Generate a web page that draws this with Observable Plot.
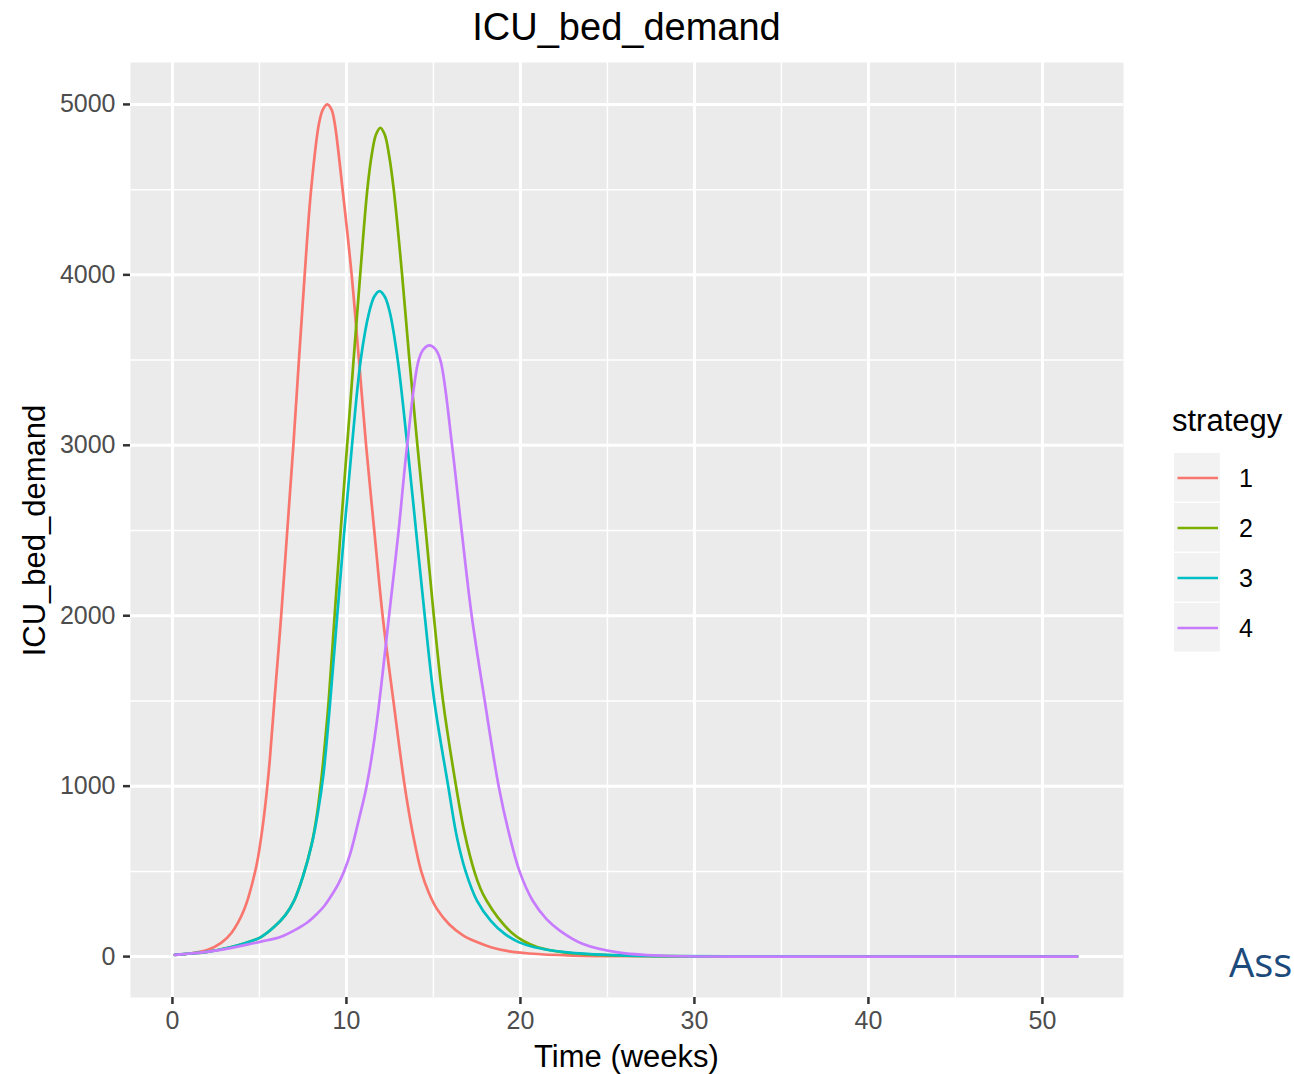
<!DOCTYPE html>
<html>
<head>
<meta charset="utf-8">
<script src="https://cdn.jsdelivr.net/npm/d3@7"></script>
<script src="https://cdn.jsdelivr.net/npm/@observablehq/plot@0.6"></script>
<style>
  body { margin: 0; background: #fff; }
  #wrap { position: relative; width: 1294px; height: 1074px; overflow: hidden; font-family: "Liberation Sans", Arial, sans-serif; }
  #title { position: absolute; left: 130px; width: 993px; top: 0; height: 55px; line-height: 55px; text-align: center; font-size: 38px; color: #000; }
  #chart { position: absolute; left: 0; top: 55px; }
  #xlabel { position: absolute; left: 130px; width: 993px; top: 1041px; height: 31px; line-height: 31px; text-align: center; font-size: 31px; color: #000; }
  #ylabel { position: absolute; left: -166.5px; top: 514.5px; width: 400px; height: 31px; line-height: 31px; text-align: center; font-size: 31px; color: #000; transform: rotate(-90deg); }
  #legend { position: absolute; left: 0; top: 0; }
  #note { position: absolute; left: 1229px; top: 940.6px; font-family: "Open Sans", sans-serif; font-size: 40px; line-height: 41px; color: #1c4a7b; white-space: nowrap; }
</style>
</head>
<body>
<div id="wrap">
  <div id="title"></div>
  <div id="chart"></div>
  <div id="xlabel"></div>
  <div id="ylabel"></div>
  <svg id="legend" width="1294" height="1074"></svg>
  <div id="note"></div>
</div>
<script>
// ---- text ----
const chartTitle = "ICU_bed_demand";
const xTitle = "Time (weeks)";
const yTitle = "ICU_bed_demand";
const legendTitle = "strategy";
const noteText = "Ass";

// ---- categories / colours ----
const strategies = ["1", "2", "3", "4"];
const strategyColors = ["#F8766D", "#7CAE00", "#00BFC4", "#C77CFF"];

// ---- tick labels ----
const xTicks = [0, 10, 20, 30, 40, 50];
const xMinor = [5, 15, 25, 35, 45];
const yTicks = [0, 1000, 2000, 3000, 4000, 5000];
const yMinor = [500, 1500, 2500, 3500, 4500];

// ---- series (time in weeks, ICU beds) ----
const weeks1 = [0.14, 1, 2.0, 2.8, 3.4, 4.1, 4.8, 5.1, 5.35, 5.6, 5.86, 6.25, 6.6, 6.95, 7.27, 7.6, 7.97, 8.42, 8.65, 8.9, 9.15, 9.33, 9.78, 10.3, 10.72, 11.13, 11.6, 12.08, 12.7, 13.35, 13.8, 14.3, 14.75, 15.2, 15.9, 16.7, 17.5, 18.3, 19.3, 20.5, 23, 27, 35, 52];
const icu1   = [10, 18, 38, 80, 140, 270, 520, 700, 900, 1160, 1500, 2000, 2500, 3000, 3500, 4000, 4500, 4887, 4971, 5000, 4968, 4887, 4500, 4000, 3500, 3000, 2500, 2000, 1500, 1000, 730, 500, 370, 280, 190, 125, 85, 55, 32, 18, 6, 2, 1, 0];

const weeks2 = [0.14, 1, 2, 3.33, 4.2, 5.06, 5.82, 6.5, 7.0, 7.5, 8.0, 8.3, 8.6, 8.8, 8.98, 9.32, 9.67, 10.04, 10.41, 10.79, 11.2, 11.45, 11.7, 11.95, 12.2, 12.45, 12.72, 13.2, 13.62, 14.08, 14.56, 15.02, 15.55, 16.3, 16.8, 17.35, 17.7, 18.05, 18.7, 19.5, 20.2, 21, 22.5, 24.5, 27, 30, 40, 52];
const icu2   = [10, 18, 28, 55, 80, 113, 172, 245, 330, 470, 660, 830, 1080, 1290, 1500, 2000, 2500, 3000, 3500, 4000, 4500, 4702, 4823, 4863, 4823, 4702, 4500, 4000, 3500, 3000, 2500, 2000, 1500, 1000, 720, 500, 400, 329, 230, 140, 90, 55, 25, 10, 4, 2, 0, 0];

const weeks3 = [0.14, 1, 2, 3.33, 4.2, 5.06, 5.82, 6.5, 7.0, 7.5, 8.0, 8.35, 8.68, 9.07, 9.47, 9.88, 10.32, 10.82, 11.3, 11.6, 11.9, 12.2, 12.5, 12.95, 13.5, 14.0, 14.5, 15.05, 15.85, 16.35, 16.85, 17.5, 18.3, 19.1, 19.9, 20.8, 22.7, 25, 28, 32, 40, 52];
const icu3   = [10, 18, 28, 55, 80, 113, 172, 245, 330, 470, 655, 840, 1070, 1500, 2000, 2500, 3000, 3500, 3778, 3873, 3905, 3873, 3778, 3500, 3000, 2500, 2000, 1500, 1000, 700, 500, 329, 210, 133, 85, 55, 25, 10, 3, 1, 0, 0];

const weeks4 = [0.14, 1, 2, 3.33, 4.3, 5.25, 6.2, 7.2, 7.75, 8.3, 8.75, 9.15, 9.55, 9.9, 10.25, 10.75, 11.1, 11.45, 11.8, 12.1, 12.45, 13.0, 13.49, 14.15, 14.45, 14.77, 15.1, 15.4, 16.07, 16.62, 17.2, 17.95, 18.75, 19.35, 19.95, 20.7, 21.5, 22.3, 23.6, 25.6, 28.2, 35, 52];
const icu4   = [10, 18, 28, 50, 70, 92, 115, 165, 200, 250, 300, 360, 430, 510, 615, 820, 970, 1170, 1420, 1680, 2000, 2500, 3000, 3500, 3566, 3586, 3566, 3500, 3000, 2500, 2000, 1500, 1000, 720, 500, 329, 220, 150, 74, 25, 5, 0, 0];

const seriesWeeks = [weeks1, weeks2, weeks3, weeks4];
const seriesIcu = [icu1, icu2, icu3, icu4];

const rows = [];
strategies.forEach((s, i) => {
  seriesWeeks[i].forEach((t, j) => rows.push({strategy: s, week: t, icu: seriesIcu[i][j]}));
});

// ---- layout ----
const W = 1294, H = 1019;
const mL = 130, mR = 171, mT = 7, mB = 77;

const chart = Plot.plot({
  width: W,
  height: H,
  marginLeft: mL, marginRight: mR, marginTop: mT, marginBottom: mB,
  style: {background: "transparent", fontFamily: "'Liberation Sans', Arial, sans-serif", fontSize: "25px", overflow: "visible"},
  x: {domain: [-2.41, 54.66]},
  y: {domain: [-240, 5246]},
  color: {domain: strategies, range: strategyColors},
  marks: [
    Plot.frame({fill: "#EBEBEB", stroke: "none"}),
    Plot.gridX(xMinor, {stroke: "#fff", strokeOpacity: 1, strokeWidth: 1.5}),
    Plot.gridY(yMinor, {stroke: "#fff", strokeOpacity: 1, strokeWidth: 1.5}),
    Plot.gridX(xTicks, {stroke: "#fff", strokeOpacity: 1, strokeWidth: 3}),
    Plot.gridY(yTicks, {stroke: "#fff", strokeOpacity: 1, strokeWidth: 3}),
    Plot.line(rows, {x: "week", y: "icu", z: "strategy", stroke: "strategy", strokeWidth: 2.7, curve: "catmull-rom"}),
    Plot.axisX(xTicks, {tickSize: 7, tickPadding: 7, stroke: "#333333", strokeWidth: 2.5, fill: "#4D4D4D", fontSize: 25, label: null}),
    Plot.axisY(yTicks, {tickSize: 7, tickPadding: 8, stroke: "#333333", strokeWidth: 2.5, fill: "#4D4D4D", fontSize: 25, label: null, tickFormat: d => String(d)})
  ]
});
document.getElementById("chart").appendChild(chart);

document.getElementById("title").textContent = chartTitle;
document.getElementById("xlabel").textContent = xTitle;
document.getElementById("ylabel").textContent = yTitle;
document.getElementById("note").textContent = noteText;

// ---- legend ----
const lg = d3.select("#legend");
lg.append("text").attr("x", 1172).attr("y", 431)
  .attr("font-family", "'Liberation Sans', Arial, sans-serif").attr("font-size", 31).attr("fill", "#000")
  .text(legendTitle);
const keyX = 1174, keyW = 46, keyTop = 453, keyH = 50;
strategies.forEach((s, i) => {
  const y0 = keyTop + i * keyH;
  lg.append("rect").attr("x", keyX).attr("y", y0).attr("width", keyW).attr("height", keyH - 1.5).attr("fill", "#F2F2F2");
  lg.append("line").attr("x1", keyX + 3.5).attr("x2", keyX + keyW - 2).attr("y1", y0 + 25).attr("y2", y0 + 25)
    .attr("stroke", strategyColors[i]).attr("stroke-width", 2.4);
  lg.append("text").attr("x", 1239).attr("y", y0 + 25).attr("dy", "0.35em")
    .attr("font-family", "'Liberation Sans', Arial, sans-serif").attr("font-size", 25).attr("fill", "#000")
    .text(s);
});
</script>
</body>
</html>
